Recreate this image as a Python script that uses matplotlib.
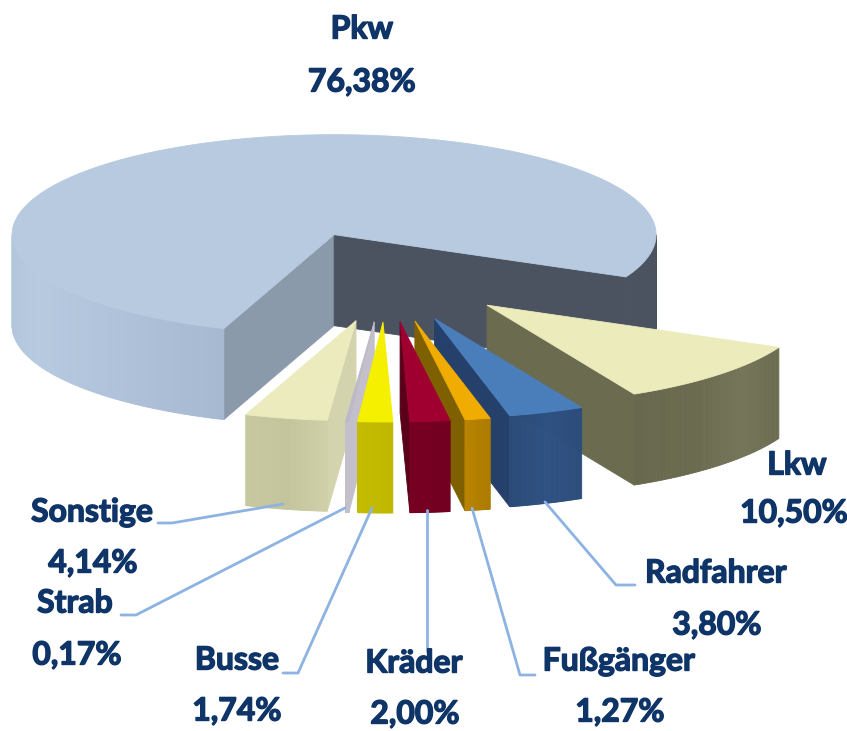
import numpy as np
import matplotlib
matplotlib.use("Agg")
import matplotlib.pyplot as plt
import matplotlib.patheffects as pe
from matplotlib.colors import to_rgb
from matplotlib.patches import Polygon

# clockwise from the right edge of Lkw
names = ['Lkw', 'Radfahrer', 'Fußgänger', 'Kräder', 'Busse', 'Strab', 'Sonstige', 'Pkw']
values = [10.50, 3.80, 1.27, 2.00, 1.74, 0.17, 4.14, 76.38]
value_labels = ['10,50%', '3,80%', '1,27%', '2,00%', '1,74%', '0,17%', '4,14%', '76,38%']

top_colors = ['#ebebbc', '#4a7ebb', '#f0ac00', '#a00030', '#f4f000', '#bdb9c9', '#ebebbe', '#b7cae0']
side_colors = ['#6b6b50', '#24406b', '#7f6000', '#5a0018', '#c4bc00', '#c3bfcb', '#d3d3ad', '#8a9aab']
wall_colors = [
    ['#6b6b50', '#75755a', '#6b6b50', '#68684e'],
    ['#2c4d7c', '#2f5182', '#2a4a78'],
    ['#ac7c00', '#b88400'],
    ['#720020', '#770022'],
    ['#c0b800', '#c4bc00'],
    ['#c3bfcb', '#c3bfcb'],
    ['#cfcfa8', '#c4c49c', '#c8c8a0'],
    ['#b0c4da', '#b7cae0', '#b0c3da', '#a6b9d0'],
]
# the part of Pkw that faces right is in shadow
pkw_right_wall = '#4b5360'

# layout of the pie in picture pixels
RX = 322
RY = 100
DEPTH = 91
START = -25.0
ORIGIN = (386.5, 267)
EXPLODE = [(139.5, 55), (138, 55)] + [(145.6, 55)] * 4 + [(140, 55)] + [(137, 35)]

# label centres: name, value
label_pos = [
    ((797, 465), (794, 513)),
    ((716, 573), (717, 625)),
    ((619, 661), (620, 712)),
    ((414, 663), (415, 714)),
    ((237, 660), (237, 711)),
    ((75, 603), (77, 655)),
    ((92, 512), (93, 563)),
    ((362, 29), (362, 82)),
]
leaders = [
    None,
    [(545, 502), (616, 585), (635, 585)],
    [(472, 508), (520, 675), (535, 675)],
    [(427, 510), (427, 651)],
    [(372, 508), (298, 673), (283, 673)],
    [(345, 508), (136, 615), (121, 615)],
    [(283, 504), (172, 523), (158, 523)],
    None,
]


def rim(cx, cy, t):
    t = np.radians(t)
    return cx + RX * np.cos(t), cy - RY * np.sin(t)


def poly(ax, pts, color, z):
    # thin edge in the same colour hides the seams between the quads
    ax.add_patch(Polygon(pts, closed=True, fc=color, ec=color, lw=0.6, zorder=z))


def draw_wall(ax, cx, cy, t0, t1, colors, z):
    ts = np.linspace(t0, t1, 60)
    stops = np.linspace(0, 1, len(colors))
    rgb = np.array([to_rgb(c) for c in colors])
    for i in range(len(ts) - 1):
        f = i / (len(ts) - 2)
        col = [np.interp(f, stops, rgb[:, k]) for k in range(3)]
        xa, ya = rim(cx, cy, ts[i])
        xb, yb = rim(cx, cy, ts[i + 1])
        poly(ax, [(xa, ya), (xb, yb), (xb, yb + DEPTH), (xa, ya + DEPTH)], col, z)


def draw_slice(ax, i, t0, t1, z):
    # t0 > t1, the pie runs clockwise
    mid = np.radians((t0 + t1) / 2)
    cx = ORIGIN[0] + EXPLODE[i][0] * np.cos(mid)
    cy = ORIGIN[1] - EXPLODE[i][1] * np.sin(mid)

    # the cut faces that look towards the viewer
    for t, visible in [(t0, np.cos(np.radians(t0)) < 0), (t1, np.cos(np.radians(t1)) > 0)]:
        if visible:
            x, y = rim(cx, cy, t)
            col = side_colors[i]
            if names[i] == 'Pkw' and t == t1:
                col = pkw_right_wall
            poly(ax, [(cx, cy), (x, y), (x, y + DEPTH), (cx, cy + DEPTH)], col, z)

    # outer wall, only where the rim is on the front half
    if names[i] == 'Pkw':
        draw_wall(ax, cx, cy, -180, t0, wall_colors[i], z + 0.1)
        draw_wall(ax, cx, cy, 0, t1 + 360, [pkw_right_wall, pkw_right_wall], z + 0.1)
    else:
        draw_wall(ax, cx, cy, t0, t1, wall_colors[i], z + 0.1)

    ts = np.linspace(t0, t1, 200)
    xs, ys = rim(cx, cy, ts)
    poly(ax, [(cx, cy)] + list(zip(xs, ys)), top_colors[i], z + 0.2)


plt.rcParams['font.family'] = ['Lato', 'DejaVu Sans']

fig = plt.figure(figsize=(8.47, 7.31), dpi=100)
ax = fig.add_axes([0, 0, 1, 1])
ax.set_xlim(0, 847)
ax.set_ylim(731, 0)
ax.axis('off')

angles = START - np.concatenate([[0], np.cumsum(values)]) * 3.6

order = [7, 0, 1, 2, 6, 3, 5, 4]
for z, i in enumerate(order):
    draw_slice(ax, i, angles[i], angles[i + 1], z + 1)

for line in leaders:
    if line is not None:
        xs, ys = zip(*line)
        ax.plot(xs, ys, color='#8db3e2', lw=2, zorder=20, solid_capstyle='round')

# the labels in the picture are heavier than Lato Bold
heavy = [pe.withStroke(linewidth=1.0, foreground='#0f3468')]
for i in range(len(names)):
    ax.text(*label_pos[i][0], names[i], ha='center', va='center', fontsize=23,
            fontweight='bold', color='#0f3468', zorder=30, path_effects=heavy)
    ax.text(*label_pos[i][1], value_labels[i], ha='center', va='center', fontsize=23,
            fontweight='bold', color='#0f3468', zorder=30, path_effects=heavy)

fig.savefig('out.png', dpi=100)
